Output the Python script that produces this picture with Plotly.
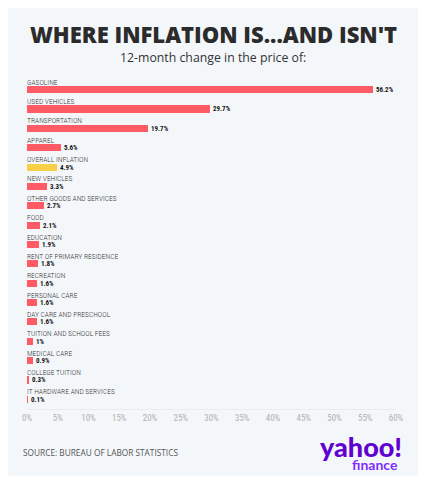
import plotly.graph_objects as go

kategorier = [
    "GASOLINE", "USED VEHICLES", "TRANSPORTATION", "APPAREL", "OVERALL INFLATION",
    "NEW VEHICLES", "OTHER GOODS AND SERVICES", "FOOD", "EDUCATION",
    "RENT OF PRIMARY RESIDENCE", "RECREATION", "PERSONAL CARE",
    "DAY CARE AND PRESCHOOL", "TUITION AND SCHOOL FEES", "MEDICAL CARE",
    "COLLEGE TUITION", "IT HARDWARE AND SERVICES",
]
förändring = [56.2, 29.7, 19.7, 5.6, 4.9, 3.3, 2.7, 2.1, 1.9, 1.8, 1.6, 1.6, 1.6, 1.0, 0.9, 0.3, 0.1]
tickvärden = [0, 5, 10, 15, 20, 25, 30, 35, 40, 45, 50, 55, 60]
ticktexter = [f"{t}%" for t in tickvärden]

RÖD = "#ff5b67"
GUL = "#f9cf45"
PANEL = "#f4f7fa"
smal = "Roboto Condensed, Open Sans Condensed, Noto Sans Condensed, Roboto, sans-serif"

# sidan har 8 px marginal i body, så figuren ritas förskjuten
OFF = 8
W, H = 426 - OFF, 480 - OFF
L, R, T, B = 27 - OFF, 30, 80 - OFF, 71
pw = W - L - R
ph = H - T - B


def px(x):
    return (x - OFF - L) / pw


def py(y):
    return (H - B - (y - OFF)) / ph


färger = [GUL if k == "OVERALL INFLATION" else RÖD for k in kategorier]

fig = go.Figure()
fig.add_trace(go.Bar(
    x=förändring,
    y=kategorier,
    orientation="h",
    width=0.37,
    marker=dict(color=färger, line=dict(width=0)),
    text=[f"{v:g}%" for v in förändring],
    textposition="outside",
    constraintext="none",
    textfont=dict(family=smal, size=7, color="#111", weight="bold"),
    cliponaxis=False,
    hoverinfo="skip",
))

for k in kategorier:
    fig.add_annotation(
        x=0, y=k, xref="x", yref="y", text=k, showarrow=False,
        xanchor="left", yanchor="bottom", yshift=1, xshift=-2,
        font=dict(family=smal, size=7.5, color="#333", weight=300),
    )

# panelens bakgrund (utanför plotytan)
fig.add_shape(
    type="rect", xref="paper", yref="paper", layer="below",
    x0=px(5), x1=px(421), y0=py(476), y1=py(5),
    fillcolor=PANEL, line=dict(width=0),
)

fig.add_annotation(
    x=px(213), y=py(34), xref="paper", yref="paper", text="WHERE INFLATION IS...AND ISN'T",
    showarrow=False, xanchor="center", yanchor="middle",
    font=dict(family="Open Sans", size=22, color="#2b2b2b", weight=800),
)
fig.add_annotation(
    x=px(213), y=py(58), xref="paper", yref="paper", text="12-month change in the price of:",
    showarrow=False, xanchor="center", yanchor="middle",
    font=dict(family="Open Sans", size=12.3, color="#333"),
)
fig.add_annotation(
    x=px(21), y=py(453), xref="paper", yref="paper", text="SOURCE: BUREAU OF LABOR STATISTICS",
    showarrow=False, xanchor="left", yanchor="middle",
    font=dict(family="Open Sans", size=8.3, color="#555"),
)
fig.add_annotation(
    x=px(404), y=py(446), xref="paper", yref="paper", text="yahoo!",
    showarrow=False, xanchor="right", yanchor="middle",
    font=dict(family="Lato", size=27, color="#5f01d1", weight=900),
)
fig.add_annotation(
    x=px(400), y=py(464), xref="paper", yref="paper", text="finance",
    showarrow=False, xanchor="right", yanchor="middle",
    font=dict(family="Lato", size=14, color="#7d2eff", weight=700),
)

fig.update_layout(
    width=W, height=H,
    margin=dict(l=L, r=R, t=T, b=B, autoexpand=False),
    paper_bgcolor="white",
    plot_bgcolor=PANEL,
    showlegend=False,
    bargap=0,
)
fig.update_xaxes(
    range=[0, 60], tickvals=tickvärden, ticktext=ticktexter,
    showgrid=False, zeroline=False, showline=True, linecolor="#e8ebef", linewidth=1,
    ticks="", tickfont=dict(family=smal, size=9, color="#b0b0b0"), fixedrange=True,
)
fig.update_yaxes(
    range=[len(kategorier) - 0.5, -0.5], showticklabels=False, showgrid=False,
    zeroline=False, showline=False, fixedrange=True,
)

fig.write_html("out.html", config={"displayModeBar": False})
